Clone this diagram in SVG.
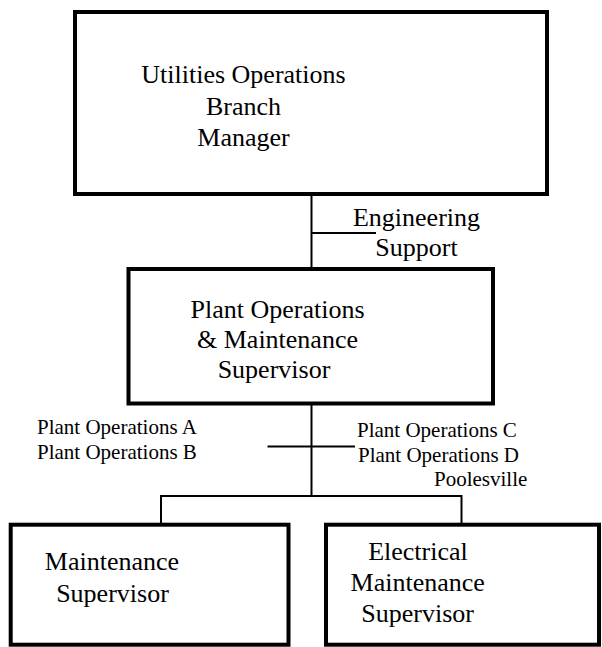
<svg xmlns="http://www.w3.org/2000/svg" width="602" height="647" viewBox="0 0 602 647">
<style>
.box{fill:#fff;stroke:#000;stroke-width:4}
.ln{stroke:#000;stroke-width:2;fill:none}
text{font-family:'Liberation Serif','DejaVu Serif',serif;fill:#000}
.t{font-size:26px}
.s{font-size:21px}
.m{text-anchor:middle}
</style>
<rect width="602" height="647" fill="#fff"/>
<g id="connectors">
<line class="ln" x1="311.5" y1="195" x2="311.5" y2="267"/>
<line class="ln" x1="311.5" y1="233" x2="376" y2="233"/>
<line class="ln" x1="311.5" y1="405" x2="311.5" y2="496"/>
<line class="ln" x1="267.5" y1="446.5" x2="355" y2="446.5"/>
<line class="ln" x1="160.5" y1="496" x2="461.5" y2="496"/>
<line class="ln" x1="161" y1="495" x2="161" y2="523"/>
<line class="ln" x1="461.5" y1="495" x2="461.5" y2="523"/>
<text class="t m" x="416.5" y="226" font-family="Liberation Serif">Engineering</text>
<text class="t m" x="416.5" y="256" font-family="Liberation Serif">Support</text>
<text class="s" x="37" y="433.5" font-family="Liberation Serif">Plant Operations A</text>
<text class="s" x="37" y="459" font-family="Liberation Serif">Plant Operations B</text>
<text class="s" x="357" y="436.5" font-family="Liberation Serif">Plant Operations C</text>
<text class="s" x="358" y="461.5" font-family="Liberation Serif">Plant Operations D</text>
<text class="s" x="434" y="486" font-family="Liberation Serif">Poolesville</text>
</g>
<g id="branch-manager">
<rect class="box" x="75" y="12" width="472" height="182"/>
<text class="t m" x="243.5" y="83">Utilities Operations</text>
<text class="t m" x="243.5" y="115">Branch</text>
<text class="t m" x="243.5" y="146">Manager</text>
</g>
<g id="plant-ops-supervisor">
<rect class="box" x="128.5" y="269" width="364.5" height="134.5"/>
<text class="t m" x="277.5" y="318">Plant Operations</text>
<text class="t m" x="277.5" y="348">&amp; Maintenance</text>
<text class="t m" x="274" y="378">Supervisor</text>
</g>
<g id="maintenance-supervisor">
<rect class="box" x="10.7" y="524.7" width="277.8" height="120"/>
<text class="t m" x="112" y="570">Maintenance</text>
<text class="t m" x="112.5" y="601.5">Supervisor</text>
</g>
<g id="electrical-maintenance-supervisor">
<rect class="box" x="326" y="524.7" width="273" height="120"/>
<text class="t m" x="418" y="560">Electrical</text>
<text class="t m" x="417.7" y="591">Maintenance</text>
<text class="t m" x="417.7" y="621.5">Supervisor</text>
</g>
</svg>
